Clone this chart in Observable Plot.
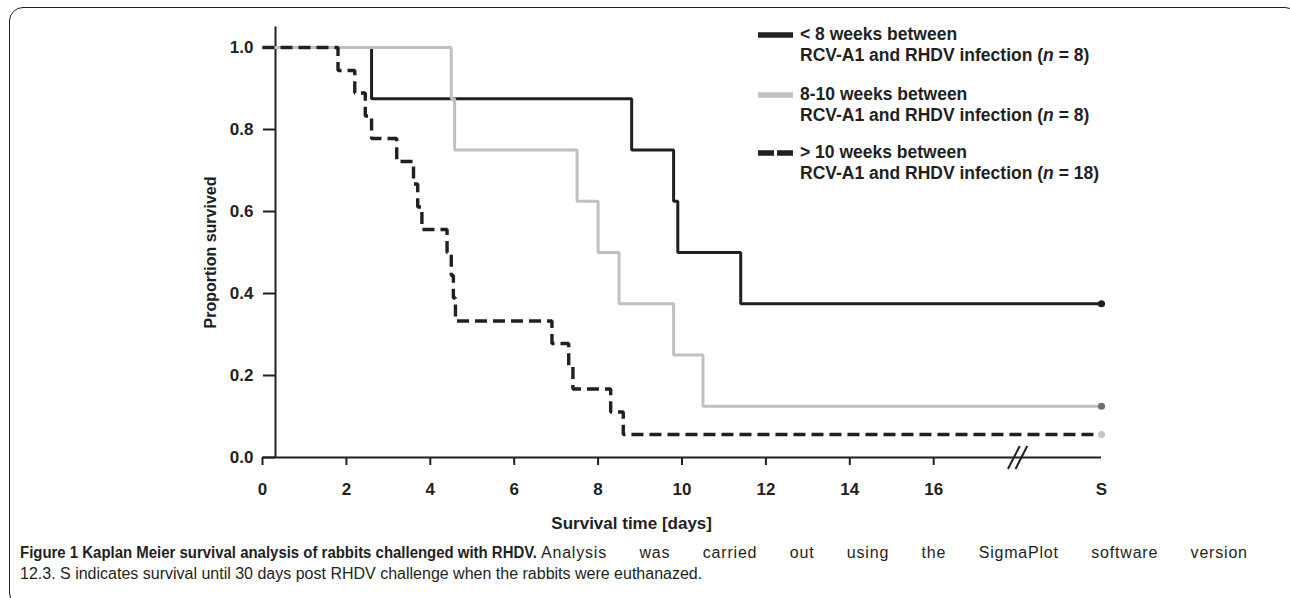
<!DOCTYPE html>
<html><head><meta charset="utf-8">
<script src="https://cdn.jsdelivr.net/npm/d3@7"></script>
<script src="https://cdn.jsdelivr.net/npm/@observablehq/plot@0.6"></script>
<style>
html,body{margin:0;padding:0;background:#fff}
body{width:1290px;height:598px;overflow:hidden;position:relative;font-family:"Liberation Sans",Arial,sans-serif;color:#231f20}
#frame{position:absolute;left:9px;top:7px;width:1290px;height:600px;border:1.6px solid #231f20;border-radius:14px;box-sizing:border-box}
#chart{position:absolute;left:0;top:0}
#legend{position:absolute;left:758px;top:0;width:400px;height:200px}
.item{position:absolute;left:0;white-space:nowrap;font-weight:bold;font-size:17.5px;line-height:21px}
.sw{position:absolute;left:0;top:7px}
.txt{position:absolute;left:42px;top:0}
#caption{position:absolute;left:0;top:542px;width:1290px;height:50px;font-family:"Liberation Sans",sans-serif;font-size:16px;line-height:21px;color:#231f20}
#caption span,#caption div{position:absolute;white-space:nowrap}
</style></head><body>
<div id="frame"></div>
<div id="chart"></div>
<div id="legend"></div>
<div id="caption"></div>
<script>
// ---------- data ----------
const legendLine1 = ["< 8 weeks between", "8-10 weeks between", "> 10 weeks between"];
const legendLine2 = "RCV-A1 and RHDV infection";
const groupN = [8, 8, 18];

const blackTimes = [0, 2.6, 8.8, 9.8, 9.9, 11.4, 20];
const blackSurv  = [1, 0.875, 0.75, 0.625, 0.5, 0.375, 0.375];

const greyTimes = [0, 4.5, 4.58, 7.5, 8.0, 8.5, 9.8, 10.5, 20];
const greySurv  = [1, 0.875, 0.75, 0.625, 0.5, 0.375, 0.25, 0.125, 0.125];

const dashTimes = [0, 1.8, 2.2, 2.45, 2.6, 3.2, 3.6, 3.7, 3.8, 4.4, 4.5, 4.55, 4.6, 6.9, 7.3, 7.4, 8.3, 8.6, 20];
const dashSurv  = [1, 0.944, 0.889, 0.833, 0.778, 0.722, 0.667, 0.611, 0.556, 0.5, 0.444, 0.389, 0.333, 0.278, 0.222, 0.167, 0.111, 0.056, 0.056];

const xTicks = [0, 2, 4, 6, 8, 10, 12, 14, 16];
const survTick = 20;          // "S" position
const survLabel = "S";
const yTicks = [0, 0.2, 0.4, 0.6, 0.8, 1.0];
const xTitle = "Survival time [days]";
const yTitle = "Proportion survived";
const breakAt = 18;
const yAxisAt = 0.31;
const yTop = 1.05;
const xTitleAt = 8.8;

const captionBold = "Figure 1 Kaplan Meier survival analysis of rabbits challenged with RHDV.";
const captionRest1 = "Analysis was carried out using the SigmaPlot software version";
const captionLine2 = "12.3. S indicates survival until 30 days post RHDV challenge when the rabbits were euthanazed.";

// ---------- styles ----------
const ink = "#231f20";
const grey = "#bfc0c2";
const lineColors = [ink, grey, ink];
const dotColors = [ink, "#707070", "#c6c6c6"];
const dashes = [null, null, "12,6"];

// ---------- build ----------
const series = [
  {t: blackTimes, s: blackSurv},
  {t: greyTimes, s: greySurv},
  {t: dashTimes, s: dashSurv}
].map((d, i) => d.t.map((t, j) => ({t, s: d.s[j], g: i})));

const drawOrder = [0, 1, 2];
const lineMarks = drawOrder.map(i => Plot.line(series[i], {
  x: "t", y: "s", curve: "step-after", stroke: lineColors[i],
  strokeWidth: i === 2 ? 3.4 : 3, strokeDasharray: dashes[i], strokeLinejoin: "miter", strokeLinecap: "butt"
}));
const ends = series.map(d => d[d.length - 1]);

const breakLines = [-1, 1].map(k => ({x1: breakAt + k*0.09 - 0.14, x2: breakAt + k*0.09 + 0.14, y1: -0.028, y2: 0.028}));

const chart = Plot.plot({
  width: 1290, height: 540,
  marginLeft: 275, marginRight: 189, marginTop: 26.5, marginBottom: 83,
  x: {domain: [yAxisAt, 20]},
  y: {domain: [0, yTop]},
  style: {fontFamily: "'Liberation Sans', Arial, sans-serif", color: ink, background: "transparent", overflow: "visible"},
  marks: [
    Plot.ruleY([0], {x1: 0, x2: 20, stroke: ink, strokeWidth: 2}),
    Plot.ruleX([yAxisAt], {y1: 0, y2: yTop, stroke: ink, strokeWidth: 2}),
    Plot.axisX({ticks: xTicks, tickSize: 8, tickPadding: 17, fontSize: 17, fontWeight: "bold", stroke: ink, fill: ink, strokeWidth: 2, label: null}),
    Plot.axisX({ticks: [survTick], tickSize: 0, tickPadding: 25, tickFormat: () => survLabel, fontSize: 17, fontWeight: "bold", fill: ink, label: null}),
    Plot.axisY({ticks: yTicks, tickFormat: d3.format(".1f"), tickSize: 12, tickPadding: 10, fontSize: 17, fontWeight: "bold", stroke: ink, fill: ink, strokeWidth: 2, label: null}),
    Plot.link(breakLines, {x1: "x1", x2: "x2", y1: "y1", y2: "y2", stroke: ink, strokeWidth: 2}),
    ...lineMarks,
    Plot.dot(ends, {x: "t", y: "s", r: 3.6, fill: (d) => dotColors[d.g], stroke: null}),
    Plot.text([yTitle], {x: yAxisAt, y: 0.5, rotate: -90, dx: -65, fontSize: 16, fontWeight: "bold", fill: ink}),
    Plot.text([xTitle], {x: xTitleAt, y: 0, dy: 66, fontSize: 17, fontWeight: "bold", fill: ink})
  ]
});
document.getElementById("chart").appendChild(chart);

// legend
const legend = document.getElementById("legend");
const centers = [34, 94, 152];
legendLine1.forEach((l1, i) => {
  const item = document.createElement("div");
  item.className = "item";
  item.style.top = (centers[i] - 10.5) + "px";
  const dash = dashes[i] ? 'stroke-dasharray="16,3"' : "";
  item.innerHTML = `<svg class="sw" width="35" height="8"><line x1="0" x2="35" y1="4" y2="4" stroke="${lineColors[i]}" stroke-width="5.5" ${dash}/></svg>` +
    `<div class="txt">${l1.replace("<", "&lt;").replace(">", "&gt;")}<br>${legendLine2} (<i>n</i> = ${groupN[i]})</div>`;
  legend.appendChild(item);
});

// caption (first line justified to the full width, as in the source)
const cap = document.getElementById("caption");
const ctx = document.createElement("canvas").getContext("2d");
const measure = (t, f) => { ctx.font = f; return ctx.measureText(t).width; };
const boldW = measure(captionBold, "bold 16px 'Liberation Sans'");
const restW = measure(captionRest1, "16px 'Liberation Sans'");
const boldTarget = 517, restLeft = 541, restTarget = 706;
const b = document.createElement("span");
b.style.cssText = `left:20px;top:0;font-weight:bold;transform-origin:0 50%;transform:scaleX(${boldTarget / boldW})`;
b.textContent = captionBold;
cap.appendChild(b);
const r = document.createElement("span");
const nChars = captionRest1.length;
const gaps = captionRest1.split(" ").length - 1;
const ls = 0.8;
const extra = restTarget - restW - ls * (nChars - 1);
r.style.cssText = `left:${restLeft}px;top:0;letter-spacing:${ls}px;word-spacing:${extra / gaps}px`;
r.textContent = captionRest1;
cap.appendChild(r);
const l2 = document.createElement("div");
l2.style.cssText = "left:20px;top:21px";
l2.textContent = captionLine2;
cap.appendChild(l2);
</script>
</body></html>
